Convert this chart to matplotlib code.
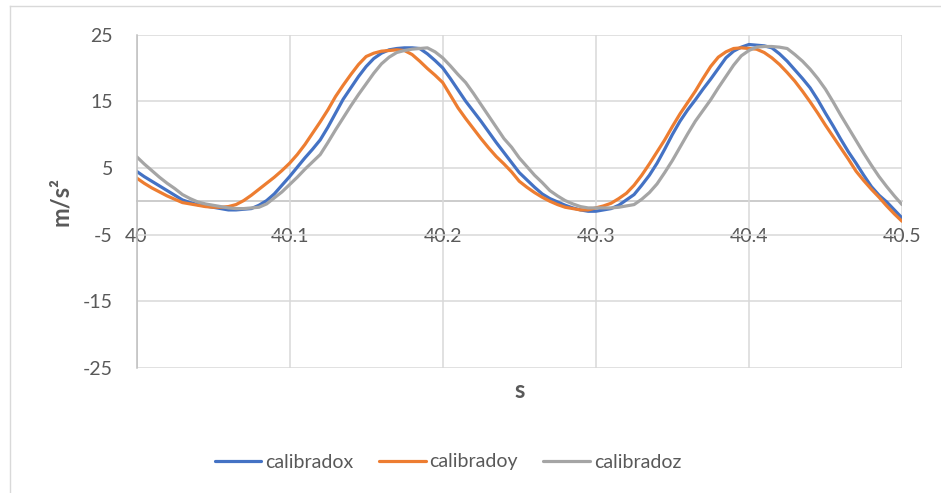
import numpy as np
import matplotlib.pyplot as plt
from matplotlib.lines import Line2D

# time axis (s), one sample every 5 ms
t = np.round(np.arange(40.0, 40.5001, 0.005), 3)

calibradox = [4.5, 3.7, 3.0, 2.3, 1.6, 0.9, 0.2, -0.2, -0.5, -0.7,
              -0.9, -1.1, -1.3, -1.3, -1.2, -1.1, -0.6, 0.1, 1.1, 2.4,
              3.7, 5.1, 6.5, 7.8, 9.2, 11.1, 13.2, 15.3, 17.0, 18.7,
              20.2, 21.4, 22.2, 22.7, 22.9, 23.0, 23.0, 22.9, 22.1, 21.1,
              20.0, 18.4, 16.7, 15.0, 13.5, 12.0, 10.4, 8.8, 7.3, 5.8,
              4.3, 3.2, 2.1, 1.1, 0.4, -0.1, -0.6, -1.0, -1.3, -1.5,
              -1.5, -1.3, -1.1, -0.6, 0.2, 1.0, 2.4, 3.9, 5.7, 7.8,
              10.0, 12.0, 13.7, 15.2, 16.8, 18.3, 19.9, 21.5, 22.5, 23.1,
              23.5, 23.4, 23.3, 23.0, 22.1, 21.0, 19.7, 18.4, 17.0, 15.2,
              13.2, 11.3, 9.3, 7.4, 5.7, 3.9, 2.2, 0.9, -0.1, -1.3,
              -2.5]

calibradoy = [3.5, 2.7, 2.0, 1.4, 0.8, 0.3, -0.2, -0.4, -0.6, -0.8,
              -0.9, -0.9, -0.8, -0.5, 0.1, 0.9, 1.8, 2.7, 3.6, 4.6,
              5.7, 7.0, 8.5, 10.2, 11.9, 13.7, 15.7, 17.4, 19.0, 20.5,
              21.7, 22.2, 22.5, 22.6, 22.7, 22.6, 22.0, 21.0, 19.9, 18.9,
              17.8, 15.9, 14.0, 12.4, 10.9, 9.4, 8.0, 6.7, 5.6, 4.4,
              3.0, 2.1, 1.3, 0.6, 0.0, -0.5, -0.9, -1.1, -1.3, -1.3,
              -1.0, -0.7, -0.3, 0.4, 1.2, 2.4, 3.9, 5.6, 7.4, 9.2,
              11.2, 13.1, 14.8, 16.5, 18.4, 20.2, 21.6, 22.4, 22.9, 23.0,
              22.9, 22.8, 22.3, 21.5, 20.5, 19.3, 18.0, 16.5, 14.9, 13.2,
              11.4, 9.7, 8.0, 6.3, 4.5, 3.1, 1.8, 0.6, -0.7, -1.9,
              -3.0]

calibradoz = [6.7, 5.6, 4.6, 3.6, 2.7, 1.9, 1.0, 0.4, -0.1, -0.4,
              -0.6, -0.8, -1.0, -1.1, -1.1, -1.0, -0.9, -0.4, 0.5, 1.4,
              2.5, 3.6, 4.8, 5.9, 7.0, 8.8, 10.7, 12.5, 14.3, 16.0,
              17.6, 19.2, 20.6, 21.6, 22.3, 22.6, 22.8, 22.9, 23.0, 22.4,
              21.5, 20.3, 19.0, 17.8, 16.2, 14.5, 12.8, 11.1, 9.4, 8.1,
              6.5, 5.2, 3.9, 2.8, 1.6, 0.8, 0.1, -0.4, -0.8, -1.0,
              -1.0, -1.0, -1.0, -0.9, -0.7, -0.5, 0.3, 1.3, 2.6, 4.3,
              6.1, 8.1, 10.1, 12.0, 13.6, 15.2, 17.0, 18.7, 20.4, 21.8,
              22.6, 23.1, 23.2, 23.2, 23.1, 22.9, 22.0, 21.0, 19.8, 18.4,
              16.8, 14.9, 12.9, 11.0, 9.1, 7.2, 5.4, 3.7, 2.2, 0.8,
              -0.5]

series = ["calibradox", "calibradoy", "calibradoz"]
colors = ["#4472C4", "#ED7D31", "#A5A5A5"]
x_ticks = [40, 40.1, 40.2, 40.3, 40.4, 40.5]
x_ticklabels = ["40", "40.1", "40.2", "40.3", "40.4", "40.5"]
y_ticks = [-25, -15, -5, 5, 15, 25]

plt.rcParams['font.family'] = ['Lato', 'DejaVu Sans']
plt.rcParams['axes.unicode_minus'] = False

fig = plt.figure(figsize=(9.41, 4.93), dpi=100)
W, H = 941, 493
ax = fig.add_axes([136.5 / W, 1 - 368 / H, (902 - 136.5) / W, (368 - 34.5) / H])

for name, vals, c in zip(series, [calibradox, calibradoy, calibradoz], colors):
    ax.plot(t, vals, color=c, lw=2.3, label=name, solid_capstyle='round')

ax.set_xlim(40, 40.5)
ax.set_ylim(-25, 25)
ax.set_xticks(x_ticks)
ax.set_xticklabels(x_ticklabels)
ax.set_yticks(y_ticks)

ax.grid(True, color="#D9D9D9", lw=1.1)
ax.set_axisbelow(True)
for s in ["top", "right"]:
    ax.spines[s].set_visible(False)
ax.spines["bottom"].set_position(("data", 0))
ax.spines["bottom"].set_color("#BFBFBF")
ax.spines["bottom"].set_linewidth(1.1)
ax.spines["bottom"].set_zorder(0.5)
ax.spines["left"].set_color("#BFBFBF")
ax.spines["left"].set_linewidth(1.1)
ax.tick_params(length=0, labelsize=14, labelcolor="#595959")
ax.tick_params(axis="x", pad=19)
ax.tick_params(axis="y", pad=17)

fig.text(60 / W, 1 - 202 / H, "m/s²", rotation=90, ha="center", va="center",
         fontsize=17, fontweight="bold", color="#595959")
fig.text(520 / W, 1 - 390 / H, "s", ha="center", va="center",
         fontsize=17, fontweight="bold", color="#595959")

fig.legend(loc="center", bbox_to_anchor=(448 / W, 1 - 462 / H), ncol=3,
           frameon=False, fontsize=14, labelcolor="#595959",
           handlelength=2.4, handletextpad=0.2, columnspacing=1.3)

# chart area border (top and left edges visible)
fig.add_artist(Line2D([10 / W, 10 / W], [0, 1 - 6 / H], color="#D9D9D9", lw=1.0))
fig.add_artist(Line2D([10 / W, 1], [1 - 6 / H, 1 - 6 / H], color="#D9D9D9", lw=1.0))

fig.savefig("out.png", dpi=100)
